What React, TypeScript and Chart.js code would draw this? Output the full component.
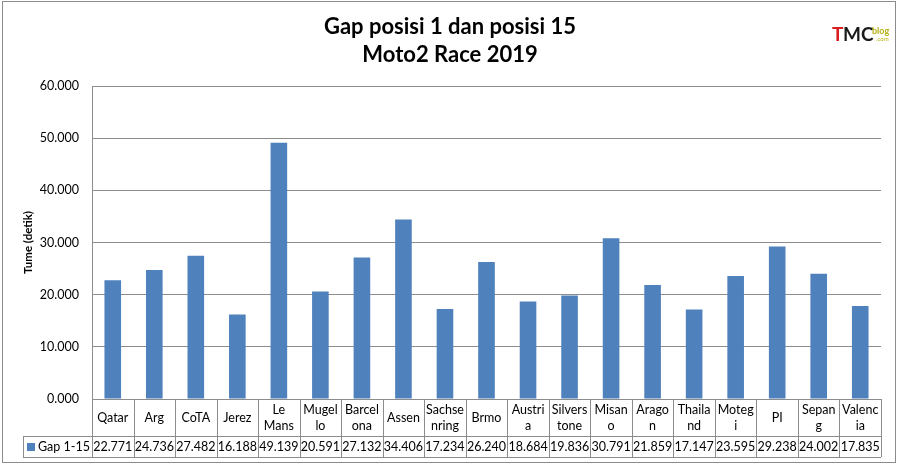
import { useEffect, useRef } from 'react';
import { Chart, registerables } from 'chart.js';

Chart.register(...registerables);

// circuits, as the table shows them (split over two lines where they wrap)
const circuits: string[][] = [
  ['Qatar'], ['Arg'], ['CoTA'], ['Jerez'], ['Le', 'Mans'], ['Mugel', 'lo'],
  ['Barcel', 'ona'], ['Assen'], ['Sachse', 'nring'], ['Brmo'], ['Austri', 'a'],
  ['Silvers', 'tone'], ['Misan', 'o'], ['Arago', 'n'], ['Thaila', 'nd'],
  ['Moteg', 'i'], ['PI'], ['Sepan', 'g'], ['Valenc', 'ia'],
];

const gap = [
  22.771, 24.736, 27.482, 16.188, 49.139, 20.591, 27.132, 34.406, 17.234, 26.24,
  18.684, 19.836, 30.791, 21.859, 17.147, 23.595, 29.238, 24.002, 17.835,
];

const seriesName = 'Gap 1-15';
const yTicks = [0, 10, 20, 30, 40, 50, 60];

const FONT = 'Lato, "Open Sans", sans-serif';
const BLUE = '#4F81BD';
const LINE = '#8c8c8c';

const tablePlugin = {
  id: 'dataTable',
  afterDraw(chart: Chart) {
    const { ctx, chartArea } = chart;
    const x = chart.scales.x;
    const left = chartArea.left;
    const right = chartArea.right;
    const bottom = chartArea.bottom;
    const w = (right - left) / circuits.length;
    const rowMid = bottom + 37;
    const rowEnd = bottom + 58;
    const legendLeft = 23;

    ctx.save();
    ctx.strokeStyle = LINE;
    ctx.lineWidth = 1;
    ctx.beginPath();
    ctx.moveTo(left, bottom + 0.5);
    ctx.lineTo(right, bottom + 0.5);
    ctx.moveTo(legendLeft, rowMid + 0.5);
    ctx.lineTo(right, rowMid + 0.5);
    ctx.moveTo(legendLeft, rowEnd + 0.5);
    ctx.lineTo(right, rowEnd + 0.5);
    ctx.moveTo(legendLeft + 0.5, rowMid);
    ctx.lineTo(legendLeft + 0.5, rowEnd);
    for (let k = 0; k <= circuits.length; k++) {
      const px = Math.round(left + k * w) + 0.5;
      ctx.moveTo(px, bottom);
      ctx.lineTo(px, rowEnd);
    }
    ctx.stroke();

    ctx.fillStyle = '#000';
    ctx.font = `12.5px ${FONT}`;
    ctx.textAlign = 'center';
    ctx.textBaseline = 'middle';
    circuits.forEach((lines, i) => {
      const cx = x.getPixelForValue(i);
      if (lines.length === 1) {
        ctx.fillText(lines[0], cx, bottom + 19);
      } else {
        ctx.fillText(lines[0], cx, bottom + 11);
        ctx.fillText(lines[1], cx, bottom + 27);
      }
      ctx.fillText(gap[i].toFixed(3), cx, rowMid + 11);
    });

    // legend key cell
    ctx.fillStyle = BLUE;
    ctx.fillRect(legendLeft + 4, rowMid + 7, 8, 8);
    ctx.fillStyle = '#000';
    ctx.textAlign = 'left';
    ctx.fillText(seriesName, legendLeft + 15, rowMid + 11);

    // y axis title
    ctx.save();
    ctx.translate(28, (chartArea.top + bottom) / 2);
    ctx.rotate(-Math.PI / 2);
    ctx.font = `bold 11.5px ${FONT}`;
    ctx.textAlign = 'center';
    ctx.fillText('Tume (detik)', 0, 0);
    ctx.restore();

    // title
    ctx.font = `bold 22px ${FONT}`;
    ctx.textAlign = 'center';
    ctx.fillText('Gap posisi 1 dan posisi 15', 450, 27);
    ctx.fillText('Moto2 Race 2019', 450, 55);

    // blog mark
    ctx.font = `bold 19px ${FONT}`;
    ctx.textAlign = 'left';
    ctx.fillStyle = '#d81e1e';
    ctx.fillText('T', 832, 35);
    ctx.fillStyle = '#1a1a1a';
    ctx.fillText('MC', 843, 35);
    ctx.font = `bold 9px ${FONT}`;
    ctx.fillStyle = '#b5b014';
    ctx.fillText('blog', 872, 31);
    ctx.font = `6px ${FONT}`;
    ctx.fillText('.com', 876, 39);

    // outer frame
    ctx.strokeStyle = LINE;
    ctx.strokeRect(2.5, 1.5, 893, 461);
    ctx.restore();
  },
};

export default function App() {
  const canvasRef = useRef<HTMLCanvasElement>(null);

  useEffect(() => {
    document.body.style.margin = '0';
    if (!canvasRef.current) return;
    const chart = new Chart(canvasRef.current, {
      type: 'bar',
      data: {
        labels: circuits.map((l) => l.join(' ')),
        datasets: [
          {
            label: seriesName,
            data: gap,
            backgroundColor: BLUE,
            barPercentage: 0.4,
            categoryPercentage: 1,
          },
        ],
      },
      options: {
        responsive: false,
        animation: false,
        devicePixelRatio: 1,
        layout: { padding: { top: 86, right: 18, bottom: 59, left: 0 } },
        plugins: {
          legend: { display: false },
          title: { display: false },
          tooltip: { enabled: false },
        },
        scales: {
          x: {
            ticks: { display: false },
            grid: { display: false },
            border: { display: false },
          },
          y: {
            min: 0,
            max: 60,
            afterFit: (s: any) => {
              s.width = 92;
            },
            afterBuildTicks: (s: any) => {
              s.ticks = yTicks.map((v) => ({ value: v }));
            },
            ticks: {
              padding: 13,
              color: '#000',
              font: { family: FONT, size: 12.5 },
              callback: (v: any) => Number(v).toFixed(3),
            },
            grid: { color: LINE, drawTicks: false },
            border: { color: LINE },
          },
        },
      },
      plugins: [tablePlugin],
    });
    return () => chart.destroy();
  }, []);

  return (
    <div style={{ width: 899, height: 466, background: '#fff' }}>
      <canvas ref={canvasRef} width={899} height={466} />
    </div>
  );
}
